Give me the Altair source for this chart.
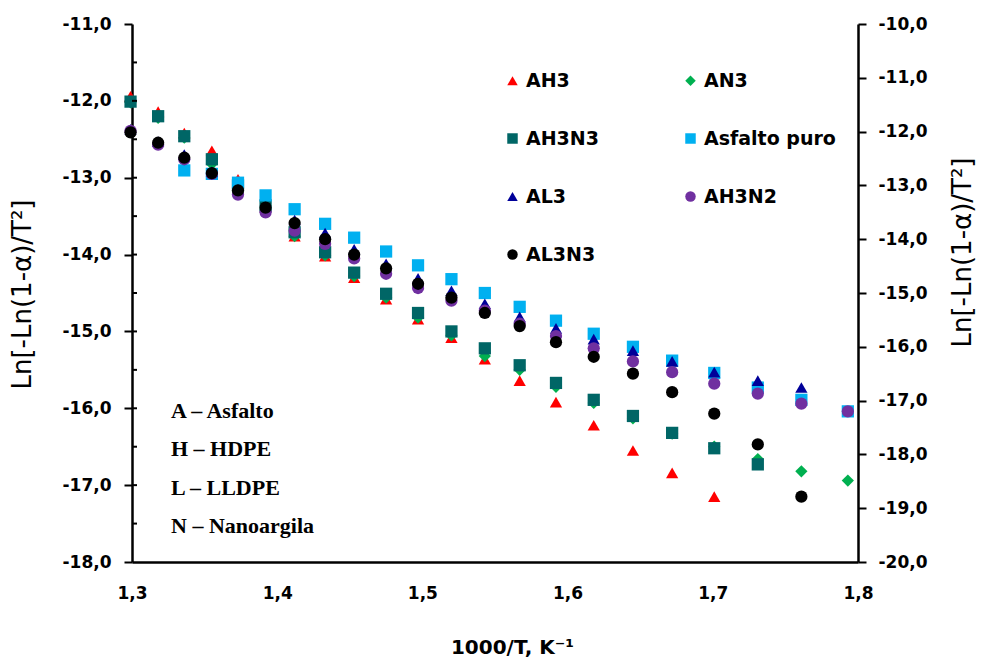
import altair as alt
import pandas as pd

# ---- data ----
x_vals = [1.299, 1.318, 1.336, 1.355, 1.373, 1.392, 1.412, 1.433, 1.453, 1.475, 1.497,
          1.520, 1.543, 1.567, 1.592, 1.618, 1.645, 1.672, 1.701, 1.731, 1.761, 1.793]

series_names = ["AH3", "AN3", "AH3N3", "Asfalto puro", "AL3", "AH3N2", "AL3N3"]

AH3 = [-11.94, -12.14, -12.42, -12.65, -13.02, -13.38, -13.76, -14.02, -14.30, -14.58, -14.84,
       -15.08, -15.36, -15.64, -15.92, -16.22, -16.55, -16.84, -17.15, None, None, None]
AN3 = [-12.02, -12.22, -12.48, -12.82, -13.13, -13.42, -13.76, -14.01, -14.28, -14.56, -14.82,
       -15.05, -15.32, -15.50, -15.72, -15.93, -16.13, -16.33, -16.50, -16.66, -16.82, -16.94]
AH3N3 = [-12.01, -12.20, -12.46, -12.76, -13.10, -13.36, -13.71, -13.97, -14.235, -14.51, -14.76,
         -15.00, -15.22, -15.44, -15.67, -15.89, -16.10, -16.32, -16.52, -16.73, None, None]
ASFALTO = [None, None, -12.905, -12.95, -13.065, -13.23, -13.41, -13.60, -13.78, -13.96, -14.14,
           -14.32, -14.50, -14.68, -14.86, -15.03, -15.20, -15.38, -15.54, -15.73, -15.89, -16.04]
AL3 = [-12.37, -12.53, -12.70, -12.92, -13.15, -13.38, -13.55, -13.72, -13.93, -14.12, -14.31,
       -14.47, -14.64, -14.81, -14.96, -15.10, -15.25, -15.39, -15.53, -15.64, -15.73, None]
AH3N2 = [-12.39, -12.57, -12.76, -12.95, -13.22, -13.45, -13.69, -13.86, -14.05, -14.25, -14.435,
         -14.60, -14.73, -14.90, -15.06, -15.22, -15.39, -15.53, -15.68, -15.81, -15.94, -16.04]
AL3N3 = [-12.41, -12.545, -12.74, -12.94, -13.165, -13.39, -13.59, -13.80, -14.00, -14.18, -14.38,
         -14.56, -14.76, -14.93, -15.14, -15.33, -15.55, -15.79, -16.07, -16.47, -17.15, None]

series_values = [AH3, AN3, AH3N3, ASFALTO, AL3, AH3N2, AL3N3]
colors = ["#FF0000", "#00B050", "#006666", "#00B0F0", "#000099", "#7030A0", "#000000"]
shapes = ["triangle-up", "diamond", "square", "square", "triangle-up", "circle", "circle"]

x_ticks = [1.3, 1.4, 1.5, 1.6, 1.7, 1.8]
left_ticks = [-11, -12, -13, -14, -15, -16, -17, -18]
right_ticks = [-10, -11, -12, -13, -14, -15, -16, -17, -18, -19, -20]
inner_ticks = [-11.5, -12, -12.5, -13, -13.5, -14, -14.5, -15, -15.5, -16, -16.5, -17, -17.5]
notes = ["A – Asfalto", "H – HDPE", "L – LLDPE", "N – Nanoargila"]

rows = []
for name, vals in zip(series_names, series_values):
    for xv, yv in zip(x_vals, vals):
        if yv is not None:
            rows.append({"serie": name, "x": xv, "y": yv})
df = pd.DataFrame(rows)

W, H = 726, 538
fmt = "replace(replace(format(datum.value, '.1f'), '.', ','), '\u2212', '-')"
FONT = "DejaVu Sans"

legend = alt.Legend(
    title=None, orient="none", legendX=371, legendY=47, columns=2, direction="horizontal",
    labelFont=FONT, labelFontWeight="bold", labelFontSize=19, labelColor="black",
    symbolSize=110, symbolStrokeWidth=0, symbolOpacity=1,
    rowPadding=38, columnPadding=82, labelOffset=4, padding=0,
)

points = alt.Chart(df).mark_point(filled=True, opacity=1, size=150, strokeWidth=0).encode(
    x=alt.X("x:Q",
            scale=alt.Scale(domain=[1.3, 1.8], nice=False, zero=False),
            axis=alt.Axis(values=x_ticks, labelExpr=fmt, title="1000/T, K⁻¹",
                          ticks=False, tickSize=0, labelPadding=36, labelBaseline="alphabetic",
                          labelFlush=False, grid=False, domainWidth=2.5, domainColor="black",
                          labelFont=FONT, labelFontWeight="bold", labelFontSize=17,
                          labelColor="black", titleFont=FONT, titleFontWeight="bold",
                          titleFontSize=20, titleColor="black", titleX=380, titleY=91,
                          titleBaseline="alphabetic", titleAlign="center")),
    y=alt.Y("y:Q",
            scale=alt.Scale(domain=[-18, -11], nice=False, zero=False),
            axis=alt.Axis(values=left_ticks, labelExpr=fmt, title="Ln[-Ln(1-α)/T²]",
                          tickSize=8, tickWidth=2, tickColor="black", labelPadding=13,
                          labelFlush=False, grid=False, domainWidth=2.5, domainColor="black",
                          labelFont=FONT, labelFontWeight="bold", labelFontSize=17,
                          labelColor="black", titleFont=FONT, titleFontWeight="normal",
                          titleFontSize=26, titleColor="black", titleAngle=270,
                          titleX=-110, titleY=270, titleAlign="center",
                          titleBaseline="middle")),
    color=alt.Color("serie:N", scale=alt.Scale(domain=series_names, range=colors), legend=legend),
    shape=alt.Shape("serie:N", scale=alt.Scale(domain=series_names, range=shapes), legend=legend),
)

inner = alt.Chart(pd.DataFrame({"t": inner_ticks})).mark_rule(color="black", strokeWidth=2).encode(
    y=alt.Y("t:Q", scale=alt.Scale(domain=[-18, -11], nice=False, zero=False), axis=None),
    x=alt.value(0), x2=alt.value(5),
)

right = alt.Chart(pd.DataFrame({"r": right_ticks})).mark_point(opacity=0).encode(
    y=alt.Y("r:Q",
            scale=alt.Scale(domain=[-20, -10], nice=False, zero=False),
            axis=alt.Axis(orient="right", values=right_ticks, labelExpr=fmt,
                          title="Ln[-Ln(1-α)/T²]",
                          tickSize=8, tickWidth=2, tickColor="black", labelPadding=12,
                          labelFlush=False, grid=False, domainWidth=2.5, domainColor="black",
                          labelFont=FONT, labelFontWeight="bold", labelFontSize=17,
                          labelColor="black", titleFont=FONT, titleFontWeight="normal",
                          titleFontSize=26, titleColor="black", titleAngle=270,
                          titleX=104, titleY=228, titleAlign="center",
                          titleBaseline="middle")),
)

notes_layer = alt.Chart(pd.DataFrame({"k": [0]})).mark_text(
    text=notes, align="left", baseline="alphabetic", font="Liberation Serif",
    fontWeight="bold", fontSize=22, lineHeight=38.3, color="black",
).encode(x=alt.value(39), y=alt.value(394))

chart = alt.layer(points, inner, right, notes_layer).resolve_scale(
    y="independent"
).properties(
    width=W, height=H,
    autosize=alt.AutoSizeParams(type="none"),
    padding={"left": 132, "top": 24, "right": 127, "bottom": 96},
).configure_view(stroke="transparent")

chart.save("out.html", embed_options={"renderer": "svg", "actions": False})
